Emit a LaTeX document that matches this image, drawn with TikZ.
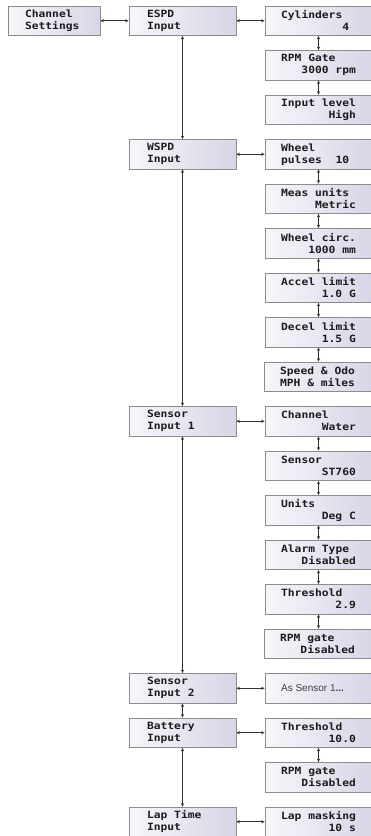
\documentclass[tikz,border=0pt]{standalone}
\usepackage{fontspec}
\setmainfont{Liberation Sans}
\newfontfamily\lcd{DejaVu Sans Mono}[FakeStretch=1.13]
\usetikzlibrary{arrows.meta}
\definecolor{lavR}{HTML}{D9D5E7}
\definecolor{lavL}{HTML}{F7F6FA}
\definecolor{bord}{HTML}{8C8C8C}
\definecolor{ink}{HTML}{1C1C1C}
\definecolor{arr}{HTML}{333333}
\newlength\lw \setlength\lw{74.8pt}
\newlength\lwb \setlength\lwb{71pt}
\newlength\lwa \setlength\lwa{58pt}
% left line / right line (column 3)
\newcommand\LR[2]{\makebox[\lw][l]{#1}\\\makebox[\lw][r]{#2}}
\newcommand\LL[2]{\makebox[\lw][l]{#1}\\\makebox[\lw][l]{#2}}
\newcommand\CL[2]{\makebox[\lwb][l]{#1}\\\makebox[\lwb][l]{#2}}
\tikzset{
  lcdbox/.style={draw=bord, line width=0.8pt, left color=lavL, right color=lavR,
    minimum width=107pt, minimum height=29.5pt, inner sep=0pt, align=left,
    text=ink, font={\lcd\bfseries\fontsize{10}{12}\selectfont}},
  conn/.style={draw=arr, line width=0.7pt,
    {Stealth[length=3.5pt,width=3.2pt]}-{Stealth[length=3.5pt,width=3.2pt]}}
}
\begin{document}
\begin{tikzpicture}[x=1pt,y=-1pt]
\useasboundingbox (0,0) rectangle (370,836);
% column 1
\node[lcdbox, minimum width=92pt] (cs) at (54,20.75) {\makebox[\lwa][l]{Channel}\\\makebox[\lwa][l]{Settings}};
% column 2
\node[lcdbox] (espd) at (182.5,20.75) {\CL{ESPD}{Input}};
\node[lcdbox] (wspd) at (182.5,154.25) {\CL{WSPD}{Input}};
\node[lcdbox] (s1) at (182.5,421.25) {\CL{Sensor}{Input 1}};
\node[lcdbox] (s2) at (182.5,688.25) {\CL{Sensor}{Input 2}};
\node[lcdbox] (bat) at (182.5,732.75) {\CL{Battery}{Input}};
\node[lcdbox] (lap) at (182.5,821.75) {\CL{Lap Time}{Input}};
% column 3
\node[lcdbox] (c0) at (318.5,20.75) {\LR{Cylinders}{4\ }};
\node[lcdbox] (c1) at (318.5,65.25) {\LR{RPM Gate}{3000 rpm}};
\node[lcdbox] (c2) at (318.5,109.75) {\LR{Input level}{High}};
\node[lcdbox] (c3) at (318.5,154.25) {\LL{Wheel}{pulses\ \ 10}};
\node[lcdbox] (c4) at (318.5,198.75) {\LR{Meas units}{Metric}};
\node[lcdbox] (c5) at (318.5,243.25) {\LR{Wheel circ.}{1000 mm}};
\node[lcdbox] (c6) at (318.5,287.75) {\LR{Accel limit}{1.0 G}};
\node[lcdbox] (c7) at (318.5,332.25) {\LR{Decel limit}{1.5 G}};
\node[lcdbox] (c8) at (317.5,376.75) {\LL{Speed \& Odo}{MPH \& miles}};
\node[lcdbox] (c9) at (318.5,421.25) {\LR{Channel}{Water}};
\node[lcdbox] (c10) at (318.5,465.75) {\LR{Sensor}{ST760}};
\node[lcdbox] (c11) at (318.5,510.25) {\LR{Units}{Deg C}};
\node[lcdbox] (c12) at (318.5,554.75) {\LR{Alarm Type}{Disabled}};
\node[lcdbox] (c13) at (318.5,599.25) {\LR{Threshold}{2.9}};
\node[lcdbox] (c14) at (317.5,643.75) {\LR{RPM gate}{Disabled}};
\node[lcdbox, font={\fontsize{10}{12}\selectfont}, text=ink!85] (c15) at (318.5,688.25) {\makebox[\lw][l]{As Sensor 1\textbf{...}}};
\node[lcdbox] (c16) at (318.5,732.75) {\LR{Threshold}{10.0}};
\node[lcdbox] (c17) at (318.5,777.25) {\LR{RPM gate}{Disabled}};
\node[lcdbox] (c18) at (318.5,821.75) {\LR{Lap masking}{10 s}};
% horizontal connectors
\draw[conn] (cs.east) -- (espd.west);
\draw[conn] (espd.east) -- (c0.west);
\draw[conn] (wspd.east) -- (c3.west);
\draw[conn] (s1.east) -- (c9.west);
\draw[conn] (s2.east) -- (c15.west);
\draw[conn] (bat.east) -- (c16.west);
\draw[conn] (lap.east) -- (c18.west);
% column 2 vertical connectors
\draw[conn] (espd.south) -- (wspd.north);
\draw[conn] (wspd.south) -- (s1.north);
\draw[conn] (s1.south) -- (s2.north);
\draw[conn] (s2.south) -- (bat.north);
\draw[conn] (bat.south) -- (lap.north);
% column 3 vertical connectors
\foreach \a/\b in {c0/c1,c1/c2,c3/c4,c4/c5,c5/c6,c6/c7,c9/c10,c10/c11,c11/c12,c12/c13,c16/c17}
  \draw[conn] (\a.south) -- (\b.north);
\draw[conn] (c7.south -| c6.south) -- (c8.north -| c6.south);
\draw[conn] (c13.south) -- (c14.north -| c13.south);
\end{tikzpicture}
\end{document}
